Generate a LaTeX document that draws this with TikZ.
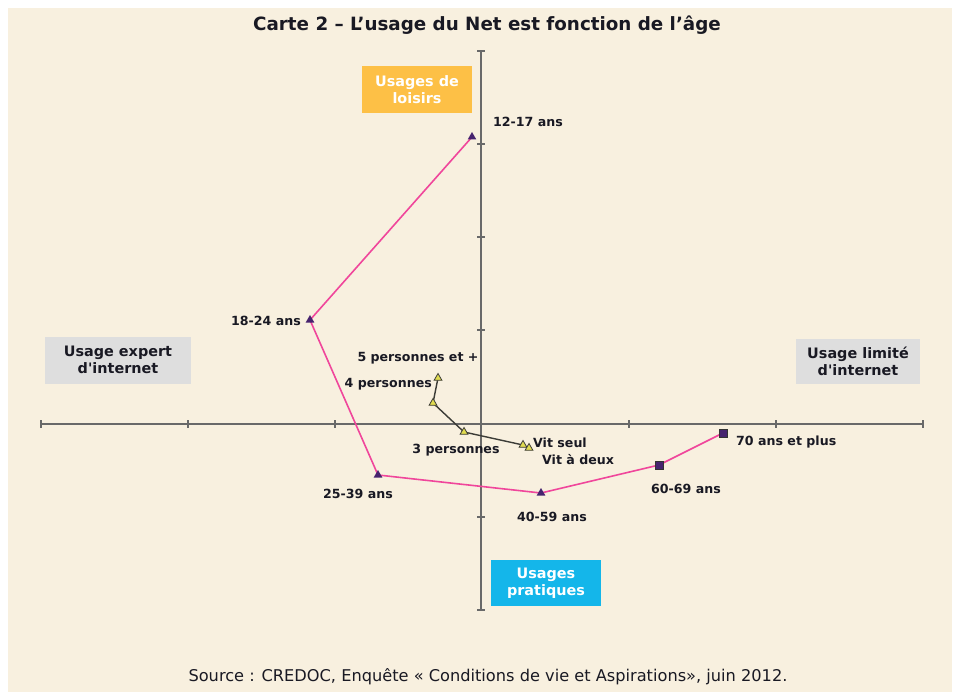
\documentclass[tikz,border=0pt]{standalone}
\usepackage{fontspec}
\setmainfont{DejaVu Sans}
\usetikzlibrary{shapes.geometric}

\definecolor{paper}{RGB}{248,240,223}
\definecolor{axisgray}{RGB}{105,105,105}
\definecolor{agepink}{RGB}{240,70,155}
\definecolor{agemarker}{RGB}{70,35,110}
\definecolor{hhline}{RGB}{60,60,55}
\definecolor{hhfill}{RGB}{225,220,80}
\definecolor{loisirs}{RGB}{253,192,70}
\definecolor{pratique}{RGB}{20,182,234}
\definecolor{boxgray}{RGB}{222,222,222}
\definecolor{labeltext}{RGB}{25,25,35}

\tikzset{
  axisline/.style={axisgray, line width=1.7pt},
  agepath/.style={agepink, line width=1.6pt},
  hhpath/.style={hhline, line width=1.4pt},
  agetri/.style={regular polygon, regular polygon sides=3, fill=agemarker,
    minimum size=10pt, inner sep=0pt},
  agesq/.style={rectangle, fill=agemarker, draw=black!80, line width=0.5pt,
    minimum size=7.5pt, inner sep=0pt},
  hhtri/.style={regular polygon, regular polygon sides=3, fill=hhfill,
    draw=hhline, line width=0.8pt, minimum size=9pt, inner sep=0pt},
  ptlabel/.style={font=\bfseries\fontsize{12.6}{15}\selectfont, text=labeltext, inner sep=1pt},
  pole/.style={font=\bfseries\fontsize{14.4}{17}\selectfont, align=center, inner sep=0pt},
}

\begin{document}
\begin{tikzpicture}[x=1pt,y=-1pt]
  % fond
  \useasboundingbox (0,0) rectangle (958,698);
  \fill[white] (0,0) rectangle (958,698);
  \fill[paper] (8,8) rectangle (952,692);

  % titre et source
  \node[font=\bfseries\fontsize{18.3}{21}\selectfont, text=labeltext] (titre) at (487,25)
    {Carte 2 -- L'usage du Net est fonction de l'âge};
  \node[font=\fontsize{16.2}{19}\selectfont, text=labeltext] (source) at (488,677)
    {Source : CREDOC, Enquête « Conditions de vie et Aspirations», juin 2012.};

  % axes
  \draw[axisline] (41,424) -- (923,424);
  \draw[axisline] (481,51) -- (481,610);
  \foreach \x in {41,188,335,629,776,923}
    \draw[axisgray, line width=1.2pt] (\x,420) -- (\x,428);
  \foreach \y in {51,144,237,330,517,610}
    \draw[axisgray, line width=1.2pt] (477,\y) -- (485,\y);

  % poles
  \node[pole, fill=loisirs, text=white, minimum width=110pt, minimum height=47pt] (loisirs) at (417,90) {Usages de\\loisirs};
  \node[pole, fill=pratique, text=white, minimum width=110pt, minimum height=46pt] (pratiques) at (546,583) {Usages\\pratiques};
  \node[pole, fill=boxgray, text=labeltext, minimum width=146pt, minimum height=47pt] (expert) at (118,360) {Usage expert\\d\textquotesingle internet};
  \node[pole, fill=boxgray, text=labeltext, minimum width=124pt, minimum height=45pt] (limite) at (858,361) {Usage limité\\d\textquotesingle internet};

  % classes d'age
  \coordinate (a1217) at (472,137);
  \coordinate (a1824) at (310,320);
  \coordinate (a2539) at (378,475);
  \coordinate (a4059) at (541,493);
  \coordinate (a6069) at (659,465);
  \coordinate (a70) at (723,433);
  \draw[agepath] (a1217) -- (a1824) -- (a2539) -- (a4059) -- (a6069) -- (a70);
  \foreach \p in {a1217,a1824,a2539,a4059}
    \node[agetri] at (\p) {};
  \foreach \p in {a6069,a70}
    \node[agesq] at (\p) {};
  \node[ptlabel, anchor=west] (l1217) at (492,122) {12-17 ans};
  \node[ptlabel, anchor=east] (l1824) at (302,321) {18-24 ans};
  \node[ptlabel] (l2539) at (358,494) {25-39 ans};
  \node[ptlabel] (l4059) at (552,517) {40-59 ans};
  \node[ptlabel] (l6069) at (686,489) {60-69 ans};
  \node[ptlabel, anchor=west] (l70) at (735,442) {70 ans et plus};

  % taille du foyer
  \coordinate (h5) at (438,378);
  \coordinate (h4) at (433,403);
  \coordinate (h3) at (464,432);
  \coordinate (h1) at (523,445);
  \coordinate (h2) at (529,448);
  \draw[hhpath] (h5) -- (h4) -- (h3) -- (h1) -- (h2);
  \foreach \p in {h5,h4,h3,h1,h2}
    \node[hhtri] at (\p) {};
  \node[ptlabel] (l5) at (418,358) {5 personnes et +};
  \node[ptlabel, anchor=east] (l4) at (433,384) {4 personnes};
  \node[ptlabel] (l3) at (456,450) {3 personnes};
  \node[ptlabel, anchor=west] (l1) at (532,443) {Vit seul};
  \node[ptlabel, anchor=west] (l2) at (541,460) {Vit à deux};
\end{tikzpicture}
\end{document}
